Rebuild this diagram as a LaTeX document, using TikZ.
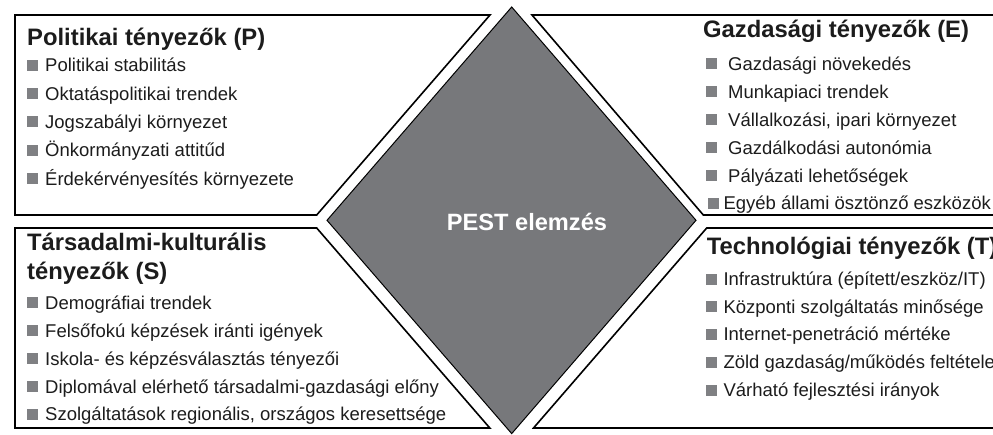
\documentclass[tikz,border=0pt]{standalone}
\usepackage{fontspec}
\setmainfont{Liberation Sans}
\definecolor{diamondgray}{HTML}{77787B}
\definecolor{bulletgray}{HTML}{7F8083}
\definecolor{inktext}{HTML}{1C1C1C}
\tikzset{
  boxline/.style={draw=black, line width=1.6pt, line join=miter},
  diamondshape/.style={draw=black, line width=1pt, fill=diamondgray},
  titletext/.style={inner sep=0pt, anchor=base west, text=inktext,
    font=\fontsize{23.8}{28}\selectfont\bfseries},
  itemtext/.style={inner sep=0pt, anchor=base west, text=inktext,
    font=\fontsize{18.5}{22}\selectfont},
  bulletsq/.style={fill=bulletgray, inner sep=0pt, minimum size=11pt,
    anchor=south west},
  centertext/.style={inner sep=0pt, text=white,
    font=\fontsize{23.6}{28}\selectfont\bfseries}
}
% one bulleted row: name, bullet x, text x, baseline y, text
\newcommand\pestrow[5]{%
  \node[bulletsq] (#1b) at (#2,#4-0.8) {};
  \node[itemtext] (#1) at (#3,#4) {#5};
}
\begin{document}
\begin{tikzpicture}[x=1pt, y=-1pt]
\useasboundingbox (0,0) rectangle (993,434);
\begin{scope}
\clip (0,0) rectangle (993,434);

% central diamond
\draw[diamondshape] (511.7,7) -- (696,220.3) -- (511.7,433.6) -- (327,220.3) -- cycle;
\node[centertext] (pest) at (527,222) {PEST elemzés};

% four factor panels
\draw[boxline] (15,15) -- (490,15) -- (316.7,215) -- (15,215) -- cycle;
\draw[boxline] (1010,15) -- (532,15) -- (703.3,215) -- (1010,215);
\draw[boxline] (15,228) -- (316.7,228) -- (489.8,428) -- (15,428) -- cycle;
\draw[boxline] (1010,228) -- (706.7,228) -- (533.5,428) -- (1010,428);

% political
\node[titletext] (ptitle) at (27,45) {Politikai tényezők (P)};
\pestrow{p1}{27}{45}{71.7}{Politikai stabilitás}
\pestrow{p2}{27}{45}{100}{Oktatáspolitikai trendek}
\pestrow{p3}{27}{45}{128.3}{Jogszabályi környezet}
\pestrow{p4}{27}{45}{156.7}{Önkormányzati attitűd}
\pestrow{p5}{27}{45}{185}{Érdekérvényesítés környezete}

% economic
\node[titletext] (etitle) at (703,37) {Gazdasági tényezők (E)};
\pestrow{e1}{706}{728}{70}{Gazdasági növekedés}
\pestrow{e2}{706}{728}{98.3}{Munkapiaci trendek}
\pestrow{e3}{706}{728}{126.3}{Vállalkozási, ipari környezet}
\pestrow{e4}{706}{728}{154.3}{Gazdálkodási autonómia}
\pestrow{e5}{706}{728}{182.3}{Pályázati lehetőségek}
\pestrow{e6}{707.5}{723.3}{209.5}{Egyéb állami ösztönző eszközök}

% socio-cultural
\node[titletext] (stitle1) at (27,250.7) {Társadalmi-kulturális};
\node[titletext] (stitle2) at (27,279.7) {tényezők (S)};
\pestrow{s1}{27}{45}{309}{Demográfiai trendek}
\pestrow{s2}{27}{45}{337.2}{Felsőfokú képzések iránti igények}
\pestrow{s3}{27}{45}{365.4}{Iskola- és képzésválasztás tényezői}
\pestrow{s4}{27}{45}{393}{Diplomával elérhető társadalmi-gazdasági előny}
\pestrow{s5}{27}{45}{420.7}{Szolgáltatások regionális, országos keresettsége}

% technological
\node[titletext] (ttitle) at (706.7,254) {Technológiai tényezők (T)};
\pestrow{t1}{705.5}{723.3}{285.7}{Infrastruktúra (épített/eszköz/IT)}
\pestrow{t2}{705.5}{723.3}{313.3}{Központi szolgáltatás minősége}
\pestrow{t3}{705.5}{723.3}{340.9}{Internet-penetráció mértéke}
\pestrow{t4}{705.5}{723.3}{368.8}{Zöld gazdaság/működés feltételei}
\pestrow{t5}{705.5}{723.3}{396.5}{Várható fejlesztési irányok}
\end{scope}
\end{tikzpicture}
\end{document}
